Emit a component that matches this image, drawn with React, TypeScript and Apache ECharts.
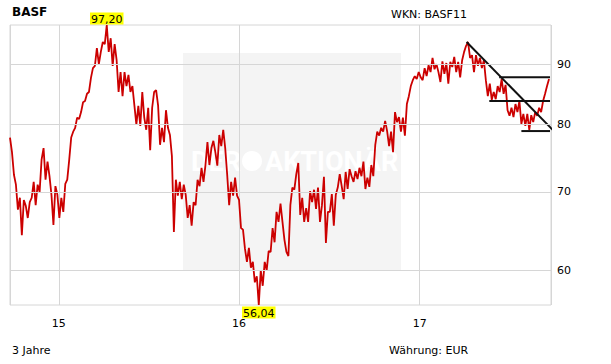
import React, { useEffect, useRef } from 'react';
import * as echarts from 'echarts';

// ---- data ----
const stockName = 'BASF';
const wknText = 'WKN: BASF11';
const periodText = '3 Jahre';
const currencyText = 'Währung: EUR';
const startYear = 2014;
const startMonth = 8; // September (0-based)
const startDay = 24;
const stepDays = 4;
const closes = [
  77.9, 75.7, 72.4, 71.0, 67.6, 69.2, 64.3, 68.9, 68.1, 66.5,
  68.6, 69.2, 71.4, 68.2, 71.0, 70.0, 74.6, 76.3, 71.7, 74.3,
  72.2, 69.6, 65.6, 70.8, 69.6, 66.5, 69.2, 67.3, 71.1, 71.7,
  74.6, 77.9, 78.8, 79.4, 81.0, 80.8, 81.9, 83.5, 83.7, 84.9,
  85.2, 87.6, 89.3, 89.7, 92.9, 90.0, 92.2, 94.0, 93.6, 97.2,
  92.2, 94.7, 89.7, 93.6, 90.7, 85.2, 88.6, 84.5, 88.6, 86.2,
  88.1, 85.2, 86.2, 83.0, 79.9, 82.9, 79.7, 85.2, 81.0, 79.1,
  82.6, 76.0, 82.6, 85.2, 85.5, 83.0, 76.8, 79.4, 77.2, 82.2,
  79.4, 78.3, 75.1, 64.7, 71.7, 69.5, 71.4, 69.0, 71.0, 69.6,
  66.5, 68.2, 65.5, 68.6, 68.2, 71.7, 70.8, 73.4, 71.4, 73.8,
  77.2, 73.8, 76.3, 77.4, 75.7, 73.7, 78.3, 76.6, 79.1, 76.3,
  72.4, 68.2, 71.4, 69.5, 72.0, 69.5, 68.9, 65.2, 65.0, 62.6,
  61.0, 62.7, 60.3, 61.0, 58.6, 59.3, 56.04, 60.0, 58.2, 61.0,
  60.0, 62.3, 62.2, 65.2, 63.4, 67.3, 66.0, 68.4, 66.0, 63.7,
  62.2, 61.7, 68.2, 70.6, 70.3, 72.5, 74.1, 66.9, 69.2, 66.0,
  67.8, 66.0, 70.1, 68.6, 70.3, 67.7, 70.6, 66.0, 68.2, 72.1,
  63.3, 67.3, 67.3, 69.7, 65.5, 69.6, 70.6, 72.5, 70.8, 69.0,
  72.8, 70.4, 73.2, 72.2, 71.4, 72.9, 71.8, 73.4, 72.2, 74.3,
  70.4, 72.0, 70.7, 73.8, 72.2, 76.8, 78.8, 78.2, 79.4, 78.8,
  80.5, 78.9, 76.6, 78.8, 75.7, 81.9, 80.3, 81.1, 78.8, 81.0,
  78.2, 83.2, 84.5, 86.2, 87.2, 87.9, 87.4, 88.6, 87.7, 87.2,
  89.3, 87.9, 89.8, 88.6, 91.1, 89.1, 90.0, 88.6, 86.9, 90.5,
  88.3, 90.2, 86.6, 90.4, 89.5, 91.3, 88.6, 90.4, 87.7, 90.7,
  92.2, 93.3, 94.0, 91.1, 91.6, 88.6, 91.6, 89.7, 91.1, 89.3,
  90.7, 87.2, 84.5, 86.6, 83.9, 85.2, 84.0, 86.2, 85.2, 87.4,
  84.9, 86.4, 82.2, 81.3, 82.6, 81.1, 83.2, 81.9, 83.7, 80.0,
  81.6, 79.7, 81.6, 79.1, 81.4, 80.3, 81.9, 81.3, 82.6, 81.9,
  83.7, 84.9, 86.2, 87.4,
];
const axisStart = '2014-09-24';
const axisEnd = '2017-09-24';
const yMin = 56.04;
const yMax = 97.2;
const gridLevels = [60, 70, 80, 90];
const trendDown = [['2017-04-06', 94.0], ['2017-10-01', 78.8]];
const resistance = [['2017-06-11', 87.7], ['2017-09-22', 87.7]];
const supportMid = [['2017-05-22', 83.7], ['2017-09-22', 83.7]];
const supportLow = [['2017-07-26', 78.9], ['2017-09-22', 78.9]];

const toLocal = (s: string) => {
  const [y, m, d] = s.split('-').map(Number);
  return new Date(y, m - 1, d).getTime();
};

export default function App() {
  const ref = useRef<HTMLDivElement>(null);
  useEffect(() => {
    if (!ref.current) return;
    const chart = echarts.init(ref.current, null, { renderer: 'svg' });
    const DAY = 86400000;
    const font = 'DejaVu Sans';
    const priceData = closes.map((v, i) => [
      new Date(startYear, startMonth, startDay + i * stepDays).getTime(),
      v,
    ]);
    const fmt = (v: number) => v.toFixed(2).replace('.', ',');
    const trendSeries = (data: (string | number)[][]) => ({
      type: 'line',
      data: data.map((p) => [toLocal(p[0] as string), p[1]]),
      symbol: 'none',
      showSymbol: false,
      clip: false,
      silent: true,
      z: 4,
      lineStyle: { color: '#111', width: 2 },
    });
    chart.setOption({
      animation: false,
      textStyle: { fontFamily: font },
      grid: {
        left: 10,
        top: 25,
        width: 541,
        height: 280,
        show: true,
        borderColor: '#d6d6d6',
        borderWidth: 1,
        backgroundColor: 'transparent',
      },
      xAxis: {
        type: 'time',
        min: toLocal(axisStart),
        max: toLocal(axisEnd),
        minInterval: 365 * DAY,
        splitNumber: 3,
        axisLine: { show: false },
        axisTick: { show: false },
        splitLine: { show: true, lineStyle: { color: '#d6d6d6', width: 1 } },
        axisLabel: {
          margin: 13,
          fontSize: 11,
          color: '#000',
          fontFamily: font,
          formatter: (v: number) => String(new Date(v).getFullYear() % 100),
        },
      },
      yAxis: {
        type: 'log',
        logBase: 10,
        min: yMin,
        max: yMax,
        position: 'right',
        axisLine: { show: false },
        axisTick: { show: false },
        axisLabel: { show: false },
        splitLine: { show: false },
      },
      graphic: [
        { type: 'rect', z: -1, silent: true, shape: { x: 183, y: 53, width: 218, height: 217 }, style: { fill: '#f4f4f4' } },
        { type: 'circle', z: -1, silent: true, shape: { cx: 252, cy: 161, r: 10 }, style: { fill: '#ffffff' } },
        { type: 'text', z: -1, silent: true, x: 191, y: 162, style: { text: 'DER', fill: '#ffffff', fontSize: 27, fontWeight: 'bold', fontFamily: 'Roboto', verticalAlign: 'middle' } },
        { type: 'text', z: -1, silent: true, x: 265, y: 162, style: { text: 'AKTIONÄR', fill: '#ffffff', fontSize: 27, fontWeight: 'bold', fontFamily: 'Roboto', verticalAlign: 'middle' } },
        { type: 'text', x: 12, y: 12, style: { text: stockName, fill: '#000', fontSize: 12, fontWeight: 'bold', fontFamily: font, verticalAlign: 'middle' } },
        { type: 'text', x: 391, y: 14, style: { text: wknText, fill: '#000', fontSize: 11, fontFamily: font, verticalAlign: 'middle' } },
        { type: 'text', x: 12, y: 350, style: { text: periodText, fill: '#000', fontSize: 11, fontFamily: font, verticalAlign: 'middle' } },
        { type: 'text', x: 389, y: 350, style: { text: currencyText, fill: '#000', fontSize: 11, fontFamily: font, verticalAlign: 'middle' } },
      ],
      series: [
        {
          type: 'line',
          data: [],
          z: 1,
          silent: true,
          markLine: {
            silent: true,
            symbol: ['none', 'none'],
            lineStyle: { color: '#d6d6d6', type: 'solid', width: 1 },
            label: {
              position: 'end',
              distance: 6,
              color: '#000',
              fontSize: 11,
              fontFamily: font,
              formatter: (p: any) => String(Math.round(p.value)),
            },
            data: gridLevels.map((v) => ({ yAxis: v })),
          },
        },
        {
          name: stockName,
          type: 'line',
          data: priceData,
          z: 3,
          symbol: 'none',
          showSymbol: false,
          lineStyle: { color: '#cc0000', width: 1.8 },
          markPoint: {
            symbol: 'rect',
            symbolSize: 1,
            itemStyle: { color: 'rgba(0,0,0,0)' },
            label: {
              show: true,
              color: '#000',
              fontSize: 11,
              fontFamily: font,
              backgroundColor: '#ffff00',
              padding: [1, 1, 0, 1],
              lineHeight: 11,
              formatter: (p: any) => fmt(p.value),
            },
            data: [
              { type: 'max', label: { position: 'top', distance: 0 } },
              { type: 'min', label: { position: 'bottom', distance: 1 } },
            ],
          },
        },
        trendSeries(trendDown),
        trendSeries(resistance),
        trendSeries(supportMid),
        trendSeries(supportLow),
      ],
    });
    return () => chart.dispose();
  }, []);
  return (
    <div
      ref={ref}
      style={{ position: 'fixed', left: 0, top: 0, width: 611, height: 364, background: '#fff' }}
    />
  );
}
